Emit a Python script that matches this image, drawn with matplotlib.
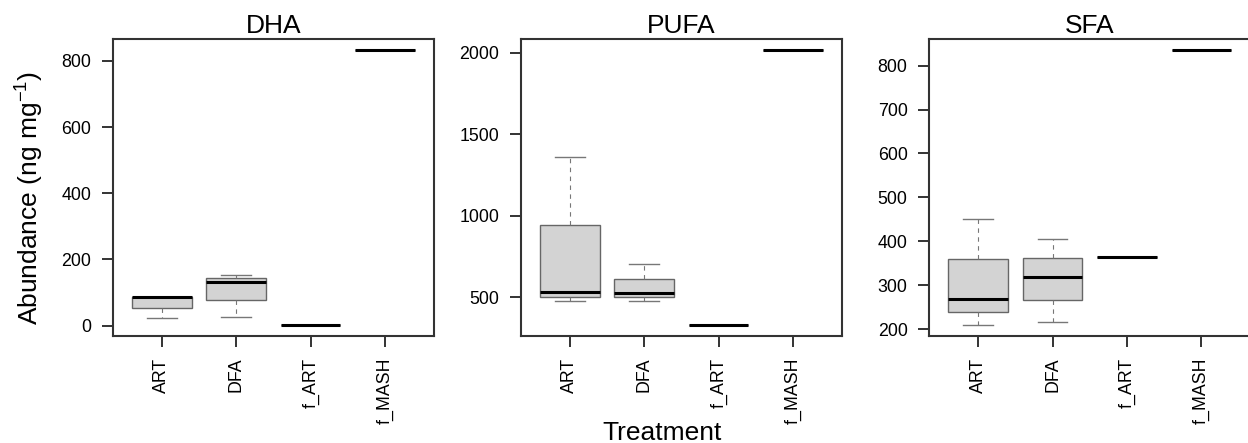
# -*- coding: utf-8 -*-

'''
Fatty acid abundance by treatment - three boxplot panels (R base style)
'''

import matplotlib
matplotlib.use('Agg')
import matplotlib.pyplot as plt

plt.rcParams['font.family'] = ['Liberation Sans', 'DejaVu Sans']
plt.rcParams['mathtext.fontset'] = 'custom'
plt.rcParams['mathtext.rm'] = 'Liberation Sans'
plt.rcParams['mathtext.it'] = 'Liberation Sans:italic'

################################################################################
# data

categories = ['ART', 'DFA', 'f_ART', 'f_MASH']

dha_whislo = [22, 25, 2, 834]
dha_q1 = [54, 79, 2, 834]
dha_med = [87, 133, 2, 834]
dha_q3 = [87, 144, 2, 834]
dha_whishi = [88, 153, 2, 834]

pufa_whislo = [475, 475, 330, 2020]
pufa_q1 = [504, 504, 330, 2020]
pufa_med = [533, 529, 330, 2020]
pufa_q3 = [944, 615, 330, 2020]
pufa_whishi = [1361, 703, 330, 2020]

sfa_whislo = [210, 216, 365, 836]
sfa_q1 = [240, 267, 365, 836]
sfa_med = [270, 319, 365, 836]
sfa_q3 = [361, 362, 365, 836]
sfa_whishi = [451, 406, 365, 836]

titles = ['DHA', 'PUFA', 'SFA']
yticks = [[0, 200, 400, 600, 800],
          [500, 1000, 1500, 2000],
          [200, 300, 400, 500, 600, 700, 800]]

################################################################################

FRAME = '#333333'

def make_stats(whislo, q1, med, q3, whishi):
    stats = []
    for i in range(len(categories)):
        stats.append({'whislo': whislo[i], 'q1': q1[i], 'med': med[i],
                      'q3': q3[i], 'whishi': whishi[i], 'fliers': []})
    return stats

def draw_panel(ax, stats, title, ticks):
    ax.bxp(stats, positions=range(1, len(stats) + 1), widths=0.8,
           patch_artist=True, showfliers=False,
           boxprops=dict(facecolor='#d3d3d3', edgecolor='#666666', linewidth=1.0),
           medianprops=dict(color='black', linewidth=2.2, solid_capstyle='butt'),
           whiskerprops=dict(color='#777777', linewidth=0.8, linestyle=(0, (4, 4))),
           capprops=dict(color='#777777', linewidth=1.0),
           capwidths=0.4)

    lo = min(s['whislo'] for s in stats)
    hi = max(s['whishi'] for s in stats)
    pad = 0.04 * (hi - lo)
    ax.set_ylim(lo - pad, hi + pad)
    ax.set_xlim(0.5 - 0.16, len(stats) + 0.5 + 0.16)

    ax.set_yticks(ticks)
    ax.set_xticks(range(1, len(stats) + 1))
    ax.set_xticklabels(categories, rotation=90)
    ax.tick_params(axis='both', length=7.9, width=1.4, color=FRAME,
                   labelsize=12.8, pad=7.5)
    for spine in ax.spines.values():
        spine.set_color(FRAME)
        spine.set_linewidth(1.5)
    ax.set_title(title, fontsize=19, pad=4)

################################################################################

if __name__ == "__main__":

    fig = plt.figure(figsize=(12.48, 4.43), dpi=100)

    lefts = [112.7, 520.7, 929.0]
    width = 321.5
    bottom = 443 - 336.0
    height = 336.0 - 38.7

    panels = [
        make_stats(dha_whislo, dha_q1, dha_med, dha_q3, dha_whishi),
        make_stats(pufa_whislo, pufa_q1, pufa_med, pufa_q3, pufa_whishi),
        make_stats(sfa_whislo, sfa_q1, sfa_med, sfa_q3, sfa_whishi),
    ]

    for ind, stats in enumerate(panels):
        ax = fig.add_axes([lefts[ind] / 1248, bottom / 443, width / 1248, height / 443])
        draw_panel(ax, stats, titles[ind], yticks[ind])

    fig.text(30 / 1248, (443 - 198) / 443, 'Abundance (ng mg$^{-1}$)',
             rotation=90, ha='center', va='center', fontsize=19)
    fig.text(661.7 / 1248, 3 / 443, 'Treatment', ha='center', va='baseline',
             fontsize=19)

    fig.savefig('out.png', dpi=100)
